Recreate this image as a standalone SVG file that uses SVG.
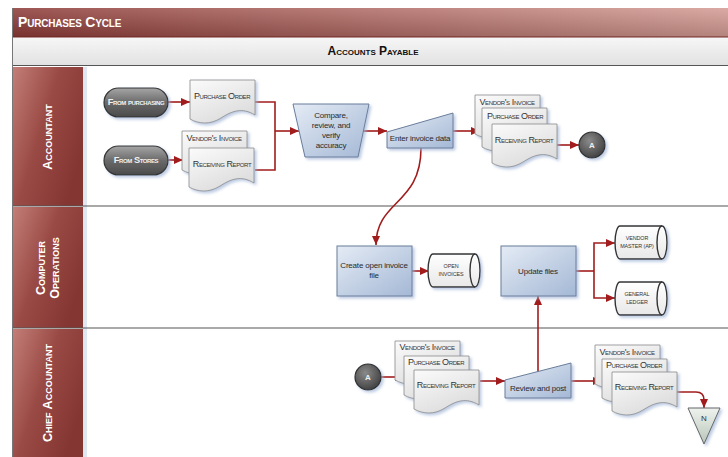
<svg xmlns="http://www.w3.org/2000/svg" xmlns:xlink="http://www.w3.org/1999/xlink" width="728" height="457" viewBox="0 0 728 457">
<style>
.sc{font-family:"Liberation Sans",Arial,sans-serif;font-variant:small-caps;}
.title{font-size:14px;font-weight:bold;fill:#fff;letter-spacing:-0.2px;}
.hdr{font-size:12px;font-weight:bold;fill:#111;}
.lane{font-size:12.5px;font-weight:bold;fill:#fff;}
.doct{font-size:9px;fill:#333;text-anchor:middle;letter-spacing:-0.4px;}
.proc{font-family:"Liberation Sans",Arial,sans-serif;font-size:8px;fill:#2a2a2a;text-anchor:middle;letter-spacing:-0.2px;}
.cyl{font-family:"Liberation Sans",Arial,sans-serif;font-size:5.4px;fill:#333;text-anchor:middle;letter-spacing:-0.1px;}
.term{font-size:9.2px;font-weight:bold;fill:#f2f2f2;text-anchor:middle;letter-spacing:-0.4px;}
.doc{fill:url(#gDoc);stroke:#8a8a8a;stroke-width:0.8;filter:url(#sh);}
.blue{fill:url(#gBlue);stroke:#6a7d9a;stroke-width:1;filter:url(#sh);}
.cylb{fill:url(#gCyl);stroke:#333;stroke-width:1.4;filter:url(#sh);}
.conn{fill:none;stroke:#a11c1c;stroke-width:1.6;}
.arr{marker-end:url(#ah);}
.lh{fill:url(#gLane);}
.div{stroke:#555;stroke-width:1.2;}
</style>
<defs>
<linearGradient id="gTitle" x1="0" y1="0" x2="1" y2="0"><stop offset="0" stop-color="#8c3a36"/><stop offset="1" stop-color="#d39b93"/></linearGradient>
<linearGradient id="gTitleV" x1="0" y1="0" x2="0" y2="1"><stop offset="0" stop-color="#fff" stop-opacity="0.15"/><stop offset="1" stop-color="#000" stop-opacity="0.15"/></linearGradient>
<linearGradient id="gHdr" x1="0" y1="0" x2="0" y2="1"><stop offset="0" stop-color="#f6f6f6"/><stop offset="1" stop-color="#e2e2e2"/></linearGradient>
<linearGradient id="gLane" x1="0" y1="0" x2="1" y2="0.6"><stop offset="0" stop-color="#c47f78"/><stop offset="0.5" stop-color="#9a4a45"/><stop offset="1" stop-color="#843632"/></linearGradient>
<linearGradient id="gDoc" x1="0" y1="0" x2="0.6" y2="1"><stop offset="0" stop-color="#fbfbfb"/><stop offset="1" stop-color="#dcdcdc"/></linearGradient>
<linearGradient id="gBlue" x1="0" y1="0" x2="1" y2="1"><stop offset="0" stop-color="#e4ebf5"/><stop offset="1" stop-color="#a4b8d5"/></linearGradient>
<linearGradient id="gCyl" x1="0" y1="0" x2="0" y2="1"><stop offset="0" stop-color="#ffffff"/><stop offset="1" stop-color="#e8e8e8"/></linearGradient>
<linearGradient id="gTerm" x1="0" y1="0" x2="0" y2="1"><stop offset="0" stop-color="#a6a6a6"/><stop offset="0.5" stop-color="#6a6a6a"/><stop offset="1" stop-color="#4a4a4a"/></linearGradient>
<radialGradient id="gCirc" cx="0.4" cy="0.35" r="0.7"><stop offset="0" stop-color="#8a8a8a"/><stop offset="1" stop-color="#3e3e3e"/></radialGradient>
<linearGradient id="gTri" x1="0" y1="0" x2="0" y2="1"><stop offset="0" stop-color="#eef2ee"/><stop offset="1" stop-color="#b9c6b9"/></linearGradient>
<filter id="sh" x="-20%" y="-20%" width="150%" height="150%"><feDropShadow dx="2" dy="2" stdDeviation="1.5" flood-color="#9fb4d6" flood-opacity="0.7"/></filter>
<marker id="ah" markerUnits="userSpaceOnUse" markerWidth="9" markerHeight="8" refX="9" refY="4" orient="auto"><path d="M0,0 L9,4 L0,8 Z" fill="#a11c1c"/></marker>
<path id="docp" d="M0,0 H65 V35 C52,27 42,31 31,38 C20,45 9,44 0,39 Z"/>
<path id="cylp" d="M5,0 H47 A5,16.5 0 0 1 47,33 H5 A5,16.5 0 0 1 5,0 Z"/>
</defs>
<rect width="728" height="457" fill="#fff"/>
<!-- title and header -->
<rect x="12" y="8" width="716" height="29" fill="url(#gTitle)"/>
<rect x="12" y="8" width="716" height="29" fill="url(#gTitleV)"/>
<line x1="12" y1="37" x2="728" y2="37" stroke="#6e2522" stroke-width="1"/>
<text x="18" y="27" class="sc title">Purchases Cycle</text>
<rect x="12" y="38" width="716" height="27" fill="url(#gHdr)"/>
<text x="373" y="55" class="sc hdr" text-anchor="middle">Accounts Payable</text>
<!-- lanes -->
<rect x="12" y="67" width="71" height="139" class="lh"/>
<rect x="12" y="207" width="71" height="121" class="lh"/>
<rect x="12" y="329" width="71" height="128" class="lh"/>
<rect x="83" y="67" width="4" height="390" fill="#dfe7f3"/>
<line x1="12" y1="65.5" x2="728" y2="65.5" class="div" stroke-width="2"/>
<line x1="12" y1="206" x2="728" y2="206" class="div"/>
<line x1="12" y1="328" x2="728" y2="328" class="div"/>
<line x1="12.5" y1="8" x2="12.5" y2="457" stroke="#777" stroke-width="1"/>
<text class="sc lane" text-anchor="middle" transform="translate(52,137) rotate(-90)">Accountant</text>
<text class="sc lane" text-anchor="middle" transform="translate(45,268) rotate(-90)">Computer</text>
<text class="sc lane" text-anchor="middle" transform="translate(59,268) rotate(-90)">Operations</text>
<text class="sc lane" text-anchor="middle" transform="translate(52,393) rotate(-90)">Chief Accountant</text>
<!-- connectors -->
<g id="connectors">
<path class="conn arr" d="M168,102 H190"/>
<path class="conn arr" d="M168,160 H183"/>
<path class="conn" d="M255,102 H275 V170 H255"/>
<path class="conn arr" d="M275,131 H299"/>
<path class="conn arr" d="M363,131 H387"/>
<path class="conn arr" d="M453,131 H480"/>
<path class="conn arr" d="M557,145 H579"/>
<path class="conn arr" d="M421,148 C421,205 376,200 376,245"/>
<path class="conn arr" d="M412,271 H429"/>
<path class="conn" d="M576,271 H594"/>
<path class="conn arr" d="M594,271 V243 H615"/>
<path class="conn arr" d="M594,271 V298 H615"/>
<path class="conn arr" d="M381,377 H404"/>
<path class="conn arr" d="M480,381 H505"/>
<path class="conn arr" d="M538,372 V296"/>
<path class="conn arr" d="M571,381 H602"/>
<path class="conn arr" d="M677,392 H696 Q704,392 704,400 V408"/>
</g>
<!-- nodes -->
<g id="from-purchasing">
<rect x="104" y="88" width="64" height="29" rx="14.5" fill="url(#gTerm)" stroke="#333" stroke-width="1.2" filter="url(#sh)"/>
<text x="136" y="105" class="sc term">From purchasing</text>
</g>
<g id="from-stores">
<rect x="104" y="146" width="64" height="29" rx="14.5" fill="url(#gTerm)" stroke="#333" stroke-width="1.2" filter="url(#sh)"/>
<text x="136" y="163" class="sc term">From Stores</text>
</g>
<g id="purchase-order">
<use href="#docp" x="190" y="80" class="doc"/>
<text x="222" y="99" class="sc doct">Purchase Order</text>
</g>
<g id="docs-stores">
<use href="#docp" x="182" y="131" class="doc"/>
<text x="214" y="141" class="sc doct">Vendor's Invoice</text>
<use href="#docp" x="189" y="148" class="doc"/>
<text x="222" y="167" class="sc doct">Receiving Report</text>
</g>
<g id="compare">
<path d="M293,104 H369 L358,157 H305 Z" class="blue"/>
<text x="331" y="118" class="proc">Compare,</text>
<text x="331" y="128" class="proc">review, and</text>
<text x="331" y="138" class="proc">verify</text>
<text x="331" y="148" class="proc">accuracy</text>
</g>
<g id="enter-invoice">
<path d="M387,132 L453,113 V148 H387 Z" class="blue"/>
<text x="420" y="141" class="proc">Enter invoice data</text>
</g>
<g id="docs-accountant">
<use href="#docp" x="475" y="95" class="doc"/>
<text x="507" y="105" class="sc doct">Vendor's Invoice</text>
<use href="#docp" x="482" y="108" class="doc"/>
<text x="515" y="119" class="sc doct">Purchase Order</text>
<use href="#docp" x="492" y="124" class="doc"/>
<text x="524" y="143" class="sc doct">Receiving Report</text>
</g>
<g id="connector-a1">
<circle cx="592" cy="145" r="13" fill="url(#gCirc)" stroke="#2e2e2e" stroke-width="1.2" filter="url(#sh)"/>
<text x="592" y="148" font-family="Liberation Sans,Arial,sans-serif" font-size="8" font-weight="bold" fill="#eee" text-anchor="middle">A</text>
</g>
<g id="create-open-invoice">
<rect x="337" y="246" width="75" height="50" class="blue"/>
<text x="374" y="268" class="proc">Create open invoice</text>
<text x="374" y="278" class="proc">file</text>
</g>
<g id="open-invoices">
<use href="#cylp" transform="translate(428,254)" class="cylb"/>
<path d="M475,254 A5,16.5 0 0 0 475,287" fill="none" stroke="#333" stroke-width="1.4"/>
<text x="451" y="268" class="cyl">OPEN</text>
<text x="451" y="276" class="cyl">INVOICES</text>
</g>
<g id="update-files">
<rect x="501" y="246" width="75" height="50" class="blue"/>
<text x="538" y="274" class="proc">Update files</text>
</g>
<g id="vendor-master">
<use href="#cylp" transform="translate(615,226)" class="cylb"/>
<path d="M662,226 A5,16.5 0 0 0 662,259" fill="none" stroke="#333" stroke-width="1.4"/>
<text x="637" y="240" class="cyl">VENDOR</text>
<text x="637" y="248" class="cyl">MASTER (AP)</text>
</g>
<g id="general-ledger">
<use href="#cylp" transform="translate(615,282)" class="cylb"/>
<path d="M662,282 A5,16.5 0 0 0 662,315" fill="none" stroke="#333" stroke-width="1.4"/>
<text x="637" y="296" class="cyl">GENERAL</text>
<text x="637" y="304" class="cyl">LEDGER</text>
</g>
<g id="connector-a2">
<circle cx="368" cy="377" r="13" fill="url(#gCirc)" stroke="#2e2e2e" stroke-width="1.2" filter="url(#sh)"/>
<text x="368" y="380" font-family="Liberation Sans,Arial,sans-serif" font-size="8" font-weight="bold" fill="#eee" text-anchor="middle">A</text>
</g>
<g id="docs-chief-in">
<use href="#docp" x="395" y="341" class="doc"/>
<text x="427" y="350" class="sc doct">Vendor's Invoice</text>
<use href="#docp" x="404" y="356" class="doc"/>
<text x="436" y="365" class="sc doct">Purchase Order</text>
<use href="#docp" x="414" y="370" class="doc"/>
<text x="446" y="388" class="sc doct">Receiving Report</text>
</g>
<g id="review-post">
<path d="M505,380 L571,363 V398 H505 Z" class="blue"/>
<text x="538" y="391" class="proc">Review and post</text>
</g>
<g id="docs-chief-out">
<use href="#docp" x="595" y="345" class="doc"/>
<text x="627" y="355" class="sc doct">Vendor's Invoice</text>
<use href="#docp" x="602" y="359" class="doc"/>
<text x="634" y="368" class="sc doct">Purchase Order</text>
<use href="#docp" x="612" y="372" class="doc"/>
<text x="644" y="390" class="sc doct">Receiving Report</text>
</g>
<g id="offpage-n">
<path d="M688,408 H720 L704,444 Z" fill="url(#gTri)" stroke="#666" stroke-width="1" filter="url(#sh)"/>
<text x="704" y="421" font-family="Liberation Sans,Arial,sans-serif" font-size="8" fill="#333" text-anchor="middle">N</text>
</g>
</svg>
